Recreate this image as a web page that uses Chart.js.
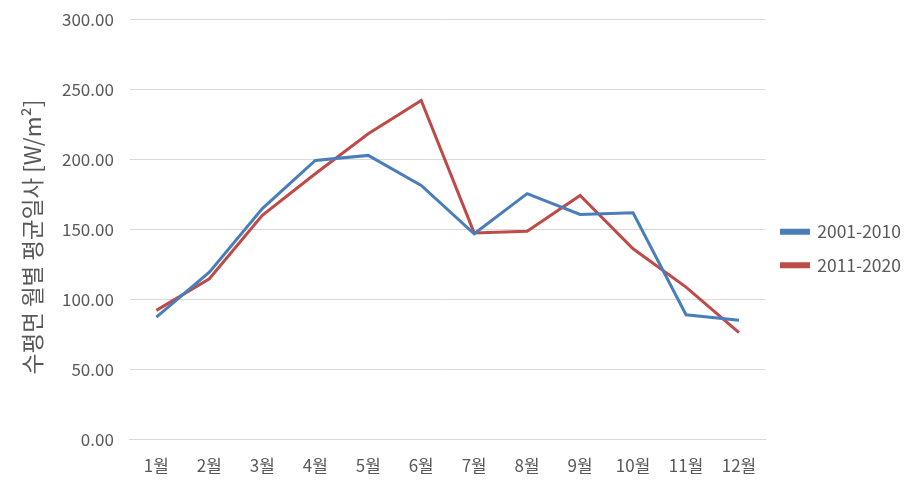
<!DOCTYPE html>
<html>
<head>
<meta charset="utf-8">
<script src="https://cdn.jsdelivr.net/npm/chart.js@4/dist/chart.umd.min.js"></script>
<style>
  html, body { margin: 0; padding: 0; background: #fff; overflow: hidden; }
  #wrap { width: 921px; height: 499px; margin-top: -7px; }
</style>
</head>
<body>
<div id="wrap"><canvas id="chart"></canvas></div>
<script>
const months = ['1월', '2월', '3월', '4월', '5월', '6월', '7월', '8월', '9월', '10월', '11월', '12월'];
const series2001 = [87.4, 119.5, 164.8, 199.2, 202.8, 181.4, 146.9, 175.5, 160.7, 161.9, 89.1, 85.1];
const series2011 = [92.2, 114.8, 160.0, 189.7, 218.3, 242.0, 147.5, 148.6, 174.2, 136.2, 108.8, 76.3];
const seriesNames = ['2001-2010', '2011-2020'];
const yTitle = '수평면 월별 평균일사 [W/m²]\u00a0\u00a0\u00a0';

const fontFamily = '"Noto Sans CJK KR", "Noto Sans", sans-serif';
const textColor = '#595959';

const ctx = document.getElementById('chart').getContext('2d');
new Chart(ctx, {
  type: 'line',
  data: {
    labels: months,
    datasets: [
      {
        label: seriesNames[0],
        data: series2001,
        borderColor: '#4A7EBB',
        backgroundColor: '#4A7EBB',
        borderWidth: 3,
        pointRadius: 0,
        tension: 0,
      },
      {
        label: seriesNames[1],
        data: series2011,
        borderColor: '#BE4B48',
        backgroundColor: '#BE4B48',
        borderWidth: 3,
        pointRadius: 0,
        tension: 0,
      },
    ],
  },
  options: {
    responsive: true,
    maintainAspectRatio: false,
    animation: false,
    layout: { padding: { top: 0, right: 10, bottom: 0, left: 19 } },
    plugins: {
      legend: {
        position: 'right',
        title: {
          display: true,
          text: ' ',
          padding: { top: 0, bottom: 0 },
          font: { size: 10 },
        },
        labels: {
          boxWidth: 27,
          boxHeight: 3,
          padding: 16,
          color: textColor,
          font: { family: fontFamily, size: 17.5 },
        },
      },
      tooltip: { enabled: false },
    },
    scales: {
      x: {
        offset: true,
        grid: { display: false, drawTicks: false },
        border: { display: true, color: '#d9d9d9', width: 1 },
        ticks: {
          color: textColor,
          padding: 16,
          font: { family: fontFamily, size: 17 },
        },
      },
      y: {
        min: 0,
        max: 300,
        grid: { color: '#d9d9d9', drawTicks: false },
        border: { display: false },
        ticks: {
          stepSize: 50,
          color: textColor,
          padding: 16,
          font: { family: fontFamily, size: 17 },
          callback: (v) => v.toFixed(2),
        },
        title: {
          display: true,
          text: yTitle,
          color: textColor,
          padding: { top: 0, bottom: 0 },
          font: { family: fontFamily, size: 22.5 },
        },
      },
    },
  },
});
</script>
</body>
</html>
